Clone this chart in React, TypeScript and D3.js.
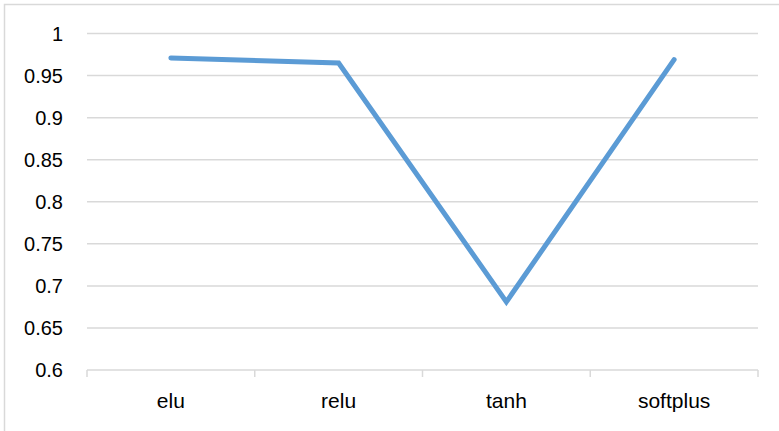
import React, { useEffect, useRef } from "react";
import * as d3 from "d3";

const categories = ["elu", "relu", "tanh", "softplus"];
const accuracy = [0.971, 0.965, 0.681, 0.969];
const yTicks = [0.6, 0.65, 0.7, 0.75, 0.8, 0.85, 0.9, 0.95, 1];

export default function App() {
  const ref = useRef<SVGSVGElement>(null);
  const width = 779;
  const height = 431;
  const margin = { top: 33.5, right: 21, bottom: 61, left: 87 };

  useEffect(() => {
    const svg = d3.select(ref.current);
    svg.selectAll("*").remove();

    // chart frame
    svg
      .append("rect")
      .attr("x", 4.5)
      .attr("y", 4.5)
      .attr("width", width + 10)
      .attr("height", height + 10)
      .attr("fill", "#fff")
      .attr("stroke", "#d9d9d9")
      .attr("stroke-width", 1.5);

    const x = d3
      .scaleBand()
      .domain(categories)
      .range([margin.left, width - margin.right]);
    const y = d3
      .scaleLinear()
      .domain([0.6, 1])
      .range([height - margin.bottom, margin.top]);

    const font = "'Liberation Sans', Arial, sans-serif";

    // gridlines
    svg
      .selectAll(".grid")
      .data(yTicks)
      .enter()
      .append("line")
      .attr("x1", margin.left)
      .attr("x2", width - margin.right)
      .attr("y1", (d) => y(d))
      .attr("y2", (d) => y(d))
      .attr("stroke", "#d9d9d9")
      .attr("stroke-width", 1.5);

    // y labels
    svg
      .selectAll(".ylab")
      .data(yTicks)
      .enter()
      .append("text")
      .attr("x", 63)
      .attr("y", (d) => y(d))
      .attr("dy", "0.36em")
      .attr("text-anchor", "end")
      .attr("font-family", font)
      .attr("font-size", 20)
      .attr("fill", "#000")
      .text((d) => d3.format("")(d));

    // x ticks at category boundaries
    const bounds = categories.map((c) => x(c)!).concat([width - margin.right]);
    svg
      .selectAll(".xtick")
      .data(bounds)
      .enter()
      .append("line")
      .attr("x1", (d) => d)
      .attr("x2", (d) => d)
      .attr("y1", y(0.6))
      .attr("y2", y(0.6) + 7)
      .attr("stroke", "#d9d9d9")
      .attr("stroke-width", 1.5);

    // x labels
    svg
      .selectAll(".xlab")
      .data(categories)
      .enter()
      .append("text")
      .attr("x", (d) => x(d)! + x.bandwidth() / 2)
      .attr("y", 408)
      .attr("text-anchor", "middle")
      .attr("font-family", font)
      .attr("font-size", 21)
      .attr("fill", "#000")
      .text((d) => d);

    // series line
    const line = d3
      .line<number>()
      .x((d, i) => x(categories[i])! + x.bandwidth() / 2)
      .y((d) => y(d));

    svg
      .append("path")
      .datum(accuracy)
      .attr("d", line)
      .attr("fill", "none")
      .attr("stroke", "#5b9bd5")
      .attr("stroke-width", 5)
      .attr("stroke-linecap", "round")
      .attr("stroke-linejoin", "miter");
  });

  return (
    <svg
      ref={ref}
      width={width}
      height={height}
      style={{ position: "fixed", top: 0, left: 0 }}
    />
  );
}
